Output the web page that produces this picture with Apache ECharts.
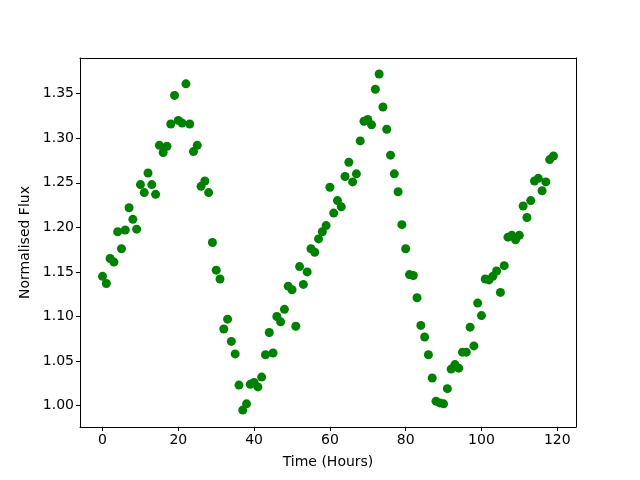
<!DOCTYPE html>
<html>
<head>
<meta charset="utf-8">
<script src="https://cdn.jsdelivr.net/npm/echarts@6/dist/echarts.min.js"></script>
<style>
  html, body { margin: 0; padding: 0; background: #fff; }
  #chart { width: 640px; height: 480px; }
</style>
</head>
<body>
<div id="chart"></div>
<script>
// hours 0..119, flux
var hours = [];
for (var i = 0; i < 120; i++) hours.push(i);

var flux = [
  1.145, 1.137, 1.165, 1.161, 1.195, 1.176, 1.197, 1.222, 1.209, 1.198,
  1.248, 1.239, 1.261, 1.248, 1.237, 1.292, 1.284, 1.291, 1.316, 1.348,
  1.320, 1.317, 1.361, 1.316, 1.285, 1.292, 1.246, 1.252, 1.239, 1.183,
  1.152, 1.142, 1.086, 1.097, 1.072, 1.058, 1.023, 0.995, 1.002, 1.024,
  1.026, 1.021, 1.032, 1.057, 1.082, 1.059, 1.100, 1.094, 1.108, 1.134,
  1.130, 1.089, 1.156, 1.136, 1.150, 1.176, 1.172, 1.187, 1.195, 1.202,
  1.245, 1.216, 1.230, 1.223, 1.257, 1.273, 1.251, 1.260, 1.297, 1.319,
  1.321, 1.315, 1.355, 1.372, 1.335, 1.310, 1.281, 1.260, 1.240, 1.203,
  1.176, 1.147, 1.146, 1.121, 1.090, 1.077, 1.057, 1.031, 1.005, 1.003,
  1.002, 1.019, 1.041, 1.046, 1.042, 1.060, 1.060, 1.088, 1.067, 1.115,
  1.101, 1.142, 1.141, 1.145, 1.151, 1.127, 1.157, 1.189, 1.191, 1.186,
  1.191, 1.224, 1.211, 1.230, 1.252, 1.255, 1.241, 1.251, 1.276, 1.280
];

var xTicks = [0, 20, 40, 60, 80, 100, 120];
var yTicks = [1.00, 1.05, 1.10, 1.15, 1.20, 1.25, 1.30, 1.35];

var points = hours.map(function (h, i) { return [h, flux[i]]; });

var myChart = echarts.init(document.getElementById('chart'), null, { renderer: 'canvas' });

var font = 'DejaVu Sans';
var xMin = -5.95, xMax = 124.95, yMin = 0.976, yMax = 1.390;

// plain frame axes for the top and right edges of the box
var frameX = {
  type: 'value', position: 'top', min: xMin, max: xMax,
  axisLine: { show: true, onZero: false, lineStyle: { color: '#000', width: 1 } },
  axisTick: { show: false }, axisLabel: { show: false }, splitLine: { show: false }
};
var frameY = {
  type: 'value', position: 'right', min: yMin, max: yMax,
  axisLine: { show: true, onZero: false, lineStyle: { color: '#000', width: 1 } },
  axisTick: { show: false }, axisLabel: { show: false }, splitLine: { show: false }
};

option = {
  animation: false,
  textStyle: { fontFamily: font },
  grid: { left: 80, right: 64, top: 58, bottom: 53 },
  xAxis: [{
    type: 'value',
    min: xMin, max: xMax,
    name: 'Time (Hours)',
    nameLocation: 'middle',
    nameGap: 28,
    nameTextStyle: { color: '#000', fontSize: 14, fontFamily: font },
    axisLine: { onZero: false, lineStyle: { color: '#000', width: 1 } },
    axisTick: { show: true, length: 4, customValues: xTicks, lineStyle: { color: '#000' } },
    axisLabel: { customValues: xTicks, color: '#000', fontSize: 14, margin: 6, fontFamily: font },
    splitLine: { show: false }
  }, frameX],
  yAxis: [{
    type: 'value',
    min: yMin, max: yMax,
    name: 'Normalised Flux',
    nameLocation: 'middle',
    nameGap: 48,
    nameTextStyle: { color: '#000', fontSize: 14, fontFamily: font },
    axisLine: { show: true, onZero: false, lineStyle: { color: '#000', width: 1 } },
    axisTick: { show: true, length: 4, customValues: yTicks, lineStyle: { color: '#000' } },
    axisLabel: {
      customValues: yTicks, color: '#000', fontSize: 14, margin: 6, fontFamily: font,
      formatter: function (v) { return v.toFixed(2); }
    },
    splitLine: { show: false }
  }, frameY],
  series: [{
    type: 'scatter',
    data: points,
    symbol: 'circle',
    symbolSize: 9,
    itemStyle: { color: '#008000', opacity: 1 }
  }]
};

myChart.setOption(option);
</script>
</body>
</html>
